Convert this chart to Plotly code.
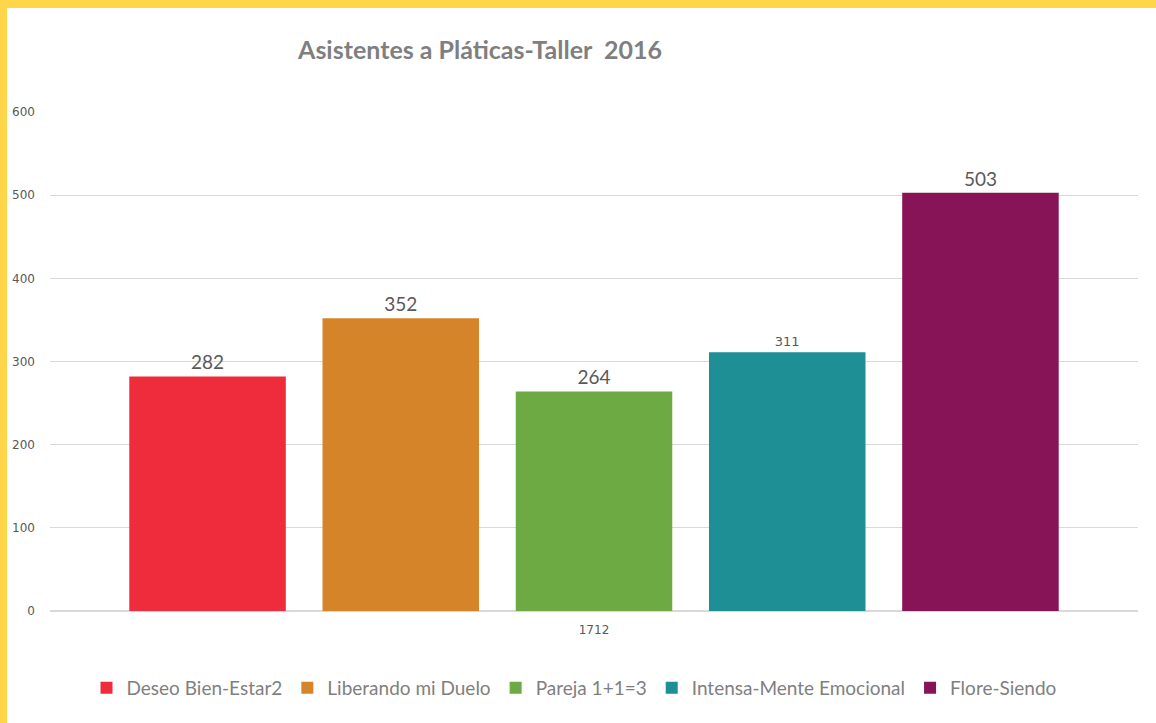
import plotly.graph_objects as go

# Attendance per workshop talk, 2016
category = ["1712"]
series_names = ["Deseo Bien-Estar2", "Liberando mi Duelo", "Pareja 1+1=3",
                "Intensa-Mente Emocional", "Flore-Siendo"]
attendees = [282, 352, 264, 311, 503]
colors = ["#EE2C3C", "#D5842A", "#6DAA43", "#1F8F96", "#861456"]
label_sizes = [19, 19, 19, 13, 19]
label_fonts = ["Lato", "Lato", "Lato", "DejaVu Sans", "Lato"]
y_ticks = [0, 100, 200, 300, 400, 500, 600]

GRAY = "#7F7F7F"

fig = go.Figure()
for name, val, col, ls, lf in zip(series_names, attendees, colors, label_sizes, label_fonts):
    fig.add_trace(go.Bar(
        x=category, y=[val], name=name,
        marker=dict(color=col, line=dict(width=0)),
        text=[str(val)], textposition="outside",
        textfont=dict(size=ls, color="#595959", family=lf),
        cliponaxis=False,
    ))

W, H = 1156, 723
ml, mr, mt, mb = 50, 18, 112, 112
pw, ph = W - ml - mr, H - mt - mb

def px_x(p):
    return (p - ml) / pw

def px_y(p):
    return (H - mb - p) / ph

fig.update_layout(
    width=W, height=H,
    margin=dict(l=ml, r=mr, t=mt, b=mb, autoexpand=False),
    paper_bgcolor="#FFD54A",
    plot_bgcolor="rgba(0,0,0,0)",
    barmode="group", bargap=0.112, bargroupgap=0.19,
    title=dict(text="<b>Asistentes a Pláticas-Taller  2016</b>",
               x=px_x(480), xref="paper", xanchor="center",
               y=1 - 50 / H, yanchor="middle",
               font=dict(family="Lato", size=25, color=GRAY)),
    font=dict(family="Lato", color=GRAY),
    showlegend=True,
    legend=dict(orientation="h", x=px_x(574), xanchor="center",
                y=px_y(688), yanchor="middle",
                font=dict(size=19, color=GRAY, family="Lato"),
                itemwidth=30, tracegroupgap=0, bgcolor="rgba(0,0,0,0)"),
    xaxis=dict(showline=False, showgrid=False, ticks="", automargin=False,
               tickfont=dict(size=12, color="#595959", family="DejaVu Sans"),
               ticklabelstandoff=10),
    yaxis=dict(range=[0, 600], tickvals=y_ticks, showgrid=True, automargin=False,
               gridcolor="#D9D9D9", gridwidth=1, zeroline=True,
               zerolinecolor="#D9D9D9", zerolinewidth=2, showline=False,
               ticks="", tickfont=dict(size=12, color="#595959", family="DejaVu Sans"),
               ticklabelstandoff=14),
    shapes=[dict(type="rect", xref="paper", yref="paper", layer="below",
                 x0=px_x(7), x1=px_x(W + 5), y0=px_y(H + 5), y1=px_y(8),
                 fillcolor="white", line=dict(width=0))],
)

fig.write_html("out.html")
